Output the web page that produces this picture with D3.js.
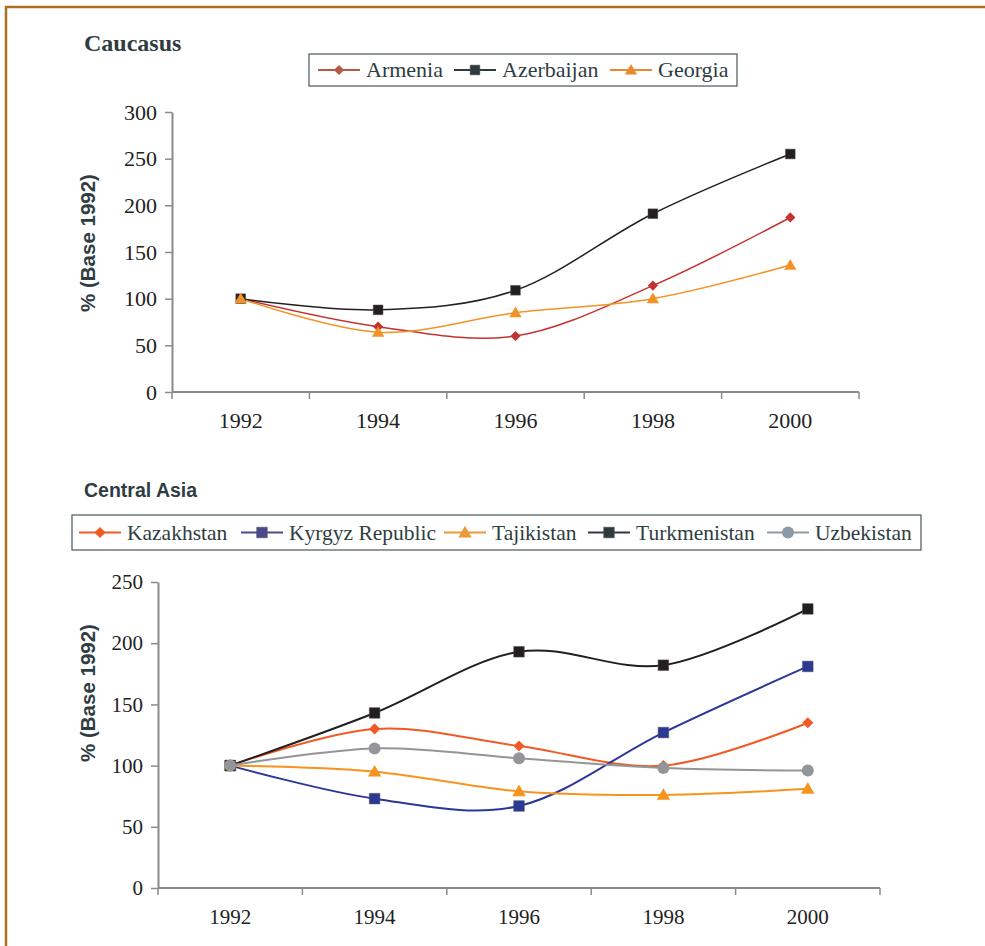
<!DOCTYPE html>
<html>
<head>
<meta charset="utf-8">
<script src="https://cdn.jsdelivr.net/npm/d3@7"></script>
<style>
  body { margin: 0; background: #fff; }
</style>
</head>
<body>
<div id="container"></div>
<script>
// data
const years = ["1992", "1994", "1996", "1998", "2000"];

const armenia = [100, 70, 60, 114, 187];
const azerbaijan = [100, 88, 109, 191, 255];
const georgia = [100, 64, 85, 100, 136];

const kazakhstan = [100, 130, 116, 100, 135];
const kyrgyz = [100, 73, 67, 127, 181];
const tajikistan = [100, 95, 79, 76, 81];
const turkmenistan = [100, 143, 193, 182, 228];
const uzbekistan = [100, 114, 106, 98, 96];

const caucasusTicks = [0, 50, 100, 150, 200, 250, 300];
const asiaTicks = [0, 50, 100, 150, 200, 250];

const textCol = "#2f3d42";
const serif = "'Liberation Serif', 'Times New Roman', serif";
const sans = "'Liberation Sans', Arial, sans-serif";

const svg = d3.select("#container").append("svg")
  .attr("width", 985).attr("height", 946);

// brown frame
svg.append("line").attr("x1", 5).attr("x2", 985).attr("y1", 7).attr("y2", 7)
  .attr("stroke", "#b06f1e").attr("stroke-width", 2.5);
svg.append("line").attr("x1", 6).attr("x2", 6).attr("y1", 6).attr("y2", 946)
  .attr("stroke", "#b06f1e").attr("stroke-width", 2.5);

function marker(g, shape, x, y, size, color) {
  if (shape === "circle") {
    g.append("circle").attr("cx", x).attr("cy", y).attr("r", size / 2).attr("fill", color);
  } else {
    const sym = {diamond: d3.symbolDiamond2, square: d3.symbolSquare2, triangle: d3.symbolTriangle2}[shape];
    const area = shape === "square" ? size * size : shape === "diamond" ? size * size * 0.55 : size * size * 0.9;
    g.append("path")
      .attr("d", d3.symbol(sym, area)())
      .attr("transform", `translate(${x},${y})` + (shape === "triangle" ? " translate(0,1)" : ""))
      .attr("fill", color)
      .attr("stroke", shape === "square" ? "#555" : "none")
      .attr("stroke-width", 0.5);
  }
}

function drawChart(opt) {
  const g = svg.append("g");

  const x = d3.scaleBand().domain(years).range([opt.left, opt.right]);
  const y = d3.scaleLinear().domain([0, opt.max]).range([opt.bottom, opt.top]);

  // title
  g.append("text")
    .attr("x", 84).attr("y", opt.titleY)
    .style("font-family", opt.titleFont)
    .style("font-weight", "bold")
    .style("font-size", opt.titleSize + "px")
    .attr("fill", textCol)
    .text(opt.title);

  // y axis
  const yAxis = d3.axisLeft(y).tickValues(opt.ticks).tickSize(7).tickSizeOuter(0);
  const ya = g.append("g").attr("transform", `translate(${opt.left},0)`).call(yAxis);
  ya.select(".domain").attr("stroke", "#8a8a8a").attr("stroke-width", 2);
  ya.selectAll(".tick line").attr("stroke", "#8a8a8a").attr("stroke-width", 1.5);
  ya.selectAll(".tick text")
    .style("font-family", serif)
    .style("font-size", opt.fontSize + "px")
    .attr("fill", "#222").attr("x", -15);

  // x axis with ticks on band edges
  const xa = g.append("g").attr("transform", `translate(0,${opt.bottom})`);
  xa.append("line").attr("x1", opt.left).attr("x2", opt.right)
    .attr("stroke", "#8a8a8a").attr("stroke-width", 2);
  const edges = years.map(d => x(d)).concat([opt.right]);
  xa.selectAll(".tk").data(edges).join("line")
    .attr("x1", d => d).attr("x2", d => d).attr("y1", 0).attr("y2", 7)
    .attr("stroke", "#8a8a8a").attr("stroke-width", 1.5);
  xa.selectAll(".lbl").data(years).join("text")
    .attr("x", d => x(d) + x.bandwidth() / 2)
    .attr("y", opt.xLabelDy)
    .attr("text-anchor", "middle")
    .style("font-family", serif)
    .style("font-size", opt.fontSize + "px")
    .attr("fill", "#222")
    .text(d => d);

  // y label
  g.append("text")
    .attr("transform", `translate(95,${opt.labelY}) rotate(-90)`)
    .attr("text-anchor", "middle")
    .style("font-family", sans)
    .style("font-weight", "bold")
    .style("font-size", "20.5px")
    .attr("fill", textCol)
    .text("% (Base 1992)");

  const line = d3.line()
    .x((d, i) => x(years[i]) + x.bandwidth() / 2)
    .y(d => y(d))
    .curve(d3.curveCatmullRom.alpha(0));

  opt.series.forEach(s => {
    g.append("path")
      .attr("d", line(s.values))
      .attr("fill", "none")
      .attr("stroke", s.color)
      .attr("stroke-width", opt.lineWidth);
  });
  opt.series.forEach(s => {
    s.values.forEach((v, i) => {
      marker(g, s.shape, x(years[i]) + x.bandwidth() / 2, y(v), opt.markerSize, s.color);
    });
  });

  // legend
  const lg = g.append("g");
  lg.append("rect")
    .attr("x", opt.legend.x0).attr("y", opt.legend.y0)
    .attr("width", opt.legend.x1 - opt.legend.x0)
    .attr("height", opt.legend.y1 - opt.legend.y0)
    .attr("fill", "#fff").attr("stroke", "#4a5558").attr("stroke-width", 1.2);
  const cy = (opt.legend.y0 + opt.legend.y1) / 2;
  opt.series.forEach((s, i) => {
    const mx = opt.legend.items[i];
    lg.append("line").attr("x1", mx - 21).attr("x2", mx + 21).attr("y1", cy).attr("y2", cy)
      .attr("stroke", s.legendColor).attr("stroke-width", 2);
    marker(lg, s.shape, mx, cy, opt.markerSize, s.legendColor);
    lg.append("text")
      .attr("x", mx + 27).attr("y", cy + 7)
      .style("font-family", serif)
      .style("font-size", opt.legendSize + "px")
      .attr("fill", textCol)
      .text(s.name);
  });
}

drawChart({
  title: "Caucasus", titleY: 51, titleFont: serif, titleSize: 24,
  left: 172, right: 859, top: 112, bottom: 392, max: 300, ticks: caucasusTicks,
  fontSize: 22, legendSize: 22, xLabelDy: 36, labelY: 243, lineWidth: 1.5, markerSize: 11,
  legend: {x0: 309, x1: 737, y0: 54, y1: 86, items: [339, 475, 631]},
  series: [
    {name: "Armenia", values: armenia, color: "#c3322f", legendColor: "#b65a44", shape: "diamond"},
    {name: "Azerbaijan", values: azerbaijan, color: "#231f20", legendColor: "#2e3b3e", shape: "square"},
    {name: "Georgia", values: georgia, color: "#f39325", legendColor: "#e8892e", shape: "triangle"}
  ]
});

drawChart({
  title: "Central Asia", titleY: 497, titleFont: sans, titleSize: 19.5,
  left: 158, right: 880, top: 582, bottom: 888, max: 250, ticks: asiaTicks,
  fontSize: 21, legendSize: 21.5, xLabelDy: 36, labelY: 693, lineWidth: 2, markerSize: 12,
  legend: {x0: 72, x1: 921, y0: 515, y1: 550, items: [100, 262, 465, 609, 788]},
  series: [
    {name: "Kazakhstan", values: kazakhstan, color: "#f15a24", legendColor: "#f15a24", shape: "diamond"},
    {name: "Kyrgyz Republic", values: kyrgyz, color: "#2b3896", legendColor: "#4a4a8c", shape: "square"},
    {name: "Tajikistan", values: tajikistan, color: "#f7941d", legendColor: "#ea9a3a", shape: "triangle"},
    {name: "Turkmenistan", values: turkmenistan, color: "#231f20", legendColor: "#2e3b3e", shape: "square"},
    {name: "Uzbekistan", values: uzbekistan, color: "#939598", legendColor: "#8a9ba6", shape: "circle"}
  ]
});
</script>
</body>
</html>
